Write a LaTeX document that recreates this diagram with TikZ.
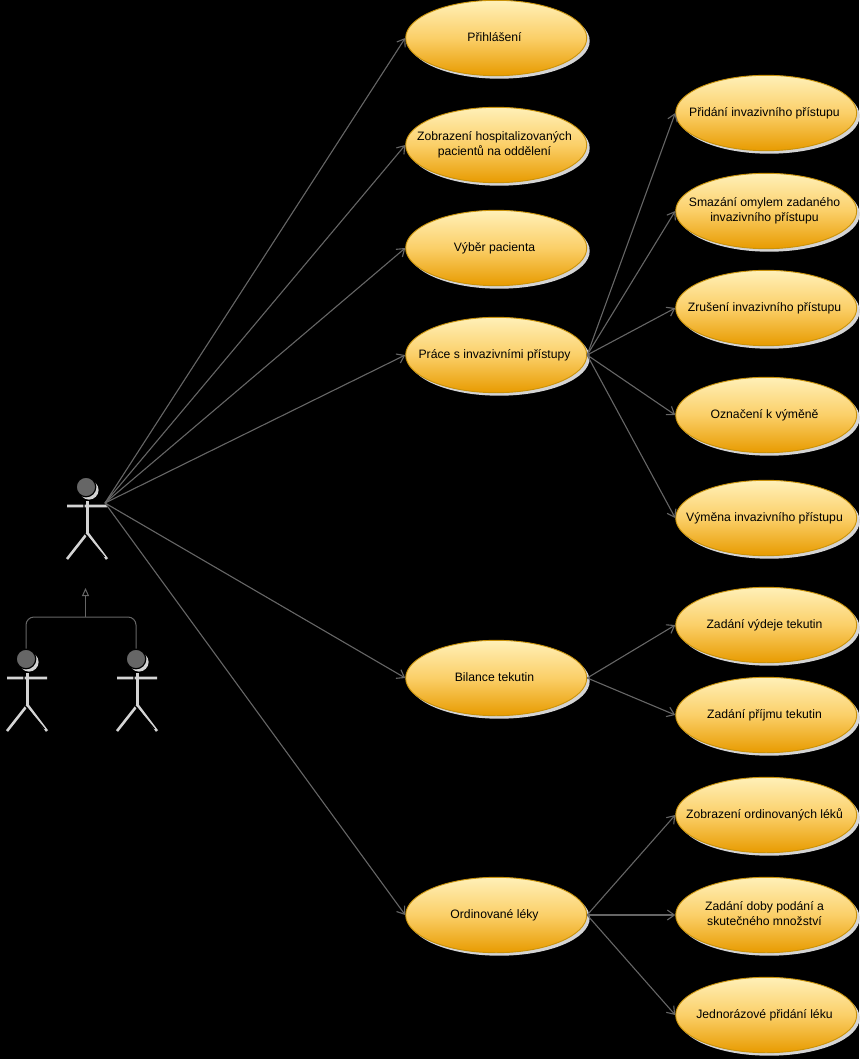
\documentclass[tikz,border=0pt]{standalone}
\usepackage{fontspec}
\setmainfont{Liberation Sans}
\usetikzlibrary{arrows.meta,shapes.geometric,shadows,calc}
\definecolor{linegray}{HTML}{666666}
\definecolor{shadegray}{HTML}{D4D4D4}
\definecolor{ucstroke}{HTML}{C9920A}
\definecolor{uctop}{HTML}{FFF0B8}
\definecolor{ucmid}{HTML}{FBCF68}
\definecolor{ucbot}{HTML}{E89B00}
\newcommand{\uct}[1]{\raisebox{-3.1pt}[0pt][0pt]{\makebox[0pt]{\hspace*{-3.4pt}\begin{tabular}{@{}c@{}}#1\end{tabular}}}}
\tikzset{
  usecase/.style={ellipse,draw=ucstroke,line width=.9pt,minimum width=181pt,minimum height=75.4pt,inner sep=0pt,
    top color=uctop,bottom color=ucbot,middle color=ucmid,
    general shadow={shadow xshift=3pt,shadow yshift=-3pt,fill=shadegray,draw=none},
    text=black,font=\fontsize{12.2}{15}\selectfont},
  assoc/.style={draw=linegray,line width=1.1pt,-{Straight Barb[length=7pt,width=10pt,line width=1.1pt]}},
  general/.style={draw=linegray,line width=1pt},
  genarrow/.style={draw=linegray,line width=1pt,-{Triangle[open,length=8pt,width=7pt,line width=1pt]}},
  stick/.pic={
    \draw[shadegray,line width=2.6pt] (20,19)--(60,19) (40.5,14)--(40.5,46) (40.5,46)--(20,72) (40.5,46)--(60,72);
    \fill[shadegray] (42,3) circle (9.6);
    \draw[black,line width=1.2pt] (37,16)--(37,46) (37.5,46)--(57.5,70);
    \node[name=head,circle,draw=black,fill=linegray,line width=1.2pt,minimum size=19.5pt,inner sep=0pt] at (39,0) {};
  }
}
\begin{document}
\begin{tikzpicture}[x=1pt,y=-1pt]
\useasboundingbox[fill=black] (0,0) rectangle (859,1059);
% use cases, left column
\node[usecase] (login) at (496.2,38) {\uct{Přihlášení}};
\node[usecase] (hosp) at (496.2,145) {\uct{Zobrazení hospitalizovaných\\pacientů na oddělení}};
\node[usecase] (select) at (496.2,248) {\uct{Výběr pacienta}};
\node[usecase] (access) at (496.2,355) {\uct{Práce s invazivními přístupy}};
\node[usecase] (fluid) at (496.2,678) {\uct{Bilance tekutin}};
\node[usecase] (meds) at (496.2,915) {\uct{Ordinované léky}};
% use cases, right column
\node[usecase] (add) at (766.2,113) {\uct{Přidání invazivního přístupu}};
\node[usecase] (del) at (766.2,211) {\uct{Smazání omylem zadaného\\invazivního přístupu}};
\node[usecase] (cancel) at (766.2,308) {\uct{Zrušení invazivního přístupu}};
\node[usecase] (mark) at (766.2,415) {\uct{Označení k výměně}};
\node[usecase] (swap) at (766.2,518) {\uct{Výměna invazivního přístupu}};
\node[usecase] (out) at (766.2,625) {\uct{Zadání výdeje tekutin}};
\node[usecase] (intake) at (766.2,715) {\uct{Zadání příjmu tekutin}};
\node[usecase] (show) at (766.2,815) {\uct{Zobrazení ordinovaných léků}};
\node[usecase] (dose) at (766.2,915) {\uct{Zadání doby podání a\\skutečného množství}};
\node[usecase] (once) at (766.2,1015) {\uct{Jednorázové přidání léku}};
% actors
\pic (main) at (47,487) {stick};
\pic (doc) at (-13,659) {stick};
\pic (nurse) at (97,659) {stick};
\coordinate (hand) at (105,503);
\coordinate (tee) at (85.5,617);
\coordinate (foot) at (85.5,588);
% associations
\foreach \t in {login,hosp,select,access,fluid,meds}
  \draw[assoc] (hand) -- (\t.west);
\foreach \t in {add,del,cancel,mark,swap}
  \draw[assoc] (access.east) -- (\t.west);
\foreach \t in {out,intake}
  \draw[assoc] (fluid.east) -- (\t.west);
\foreach \t in {show,dose,once}
  \draw[assoc] (meds.east) -- (\t.west);
% generalisation
\draw[general,rounded corners=8pt] (dochead.north) |- (tee) -| (nursehead.north);
\draw[genarrow] (tee) -- (foot);
\end{tikzpicture}
\end{document}
